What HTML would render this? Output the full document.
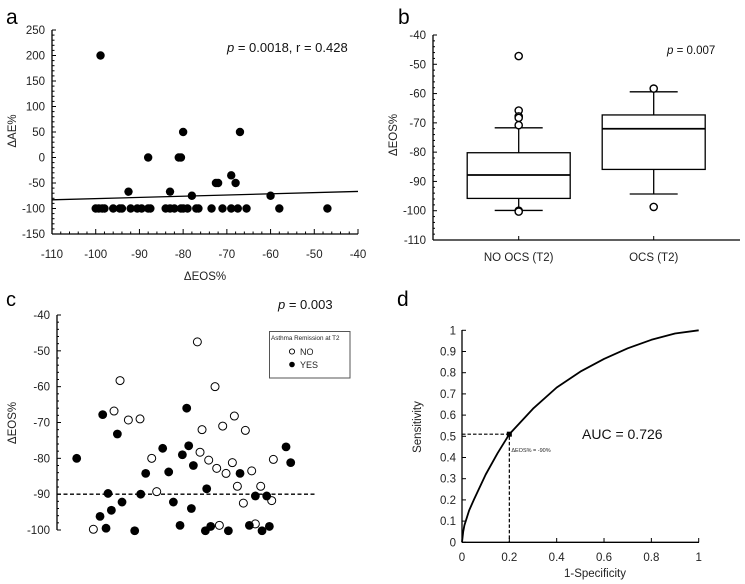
<!DOCTYPE html>
<html><head><meta charset="utf-8">
<style>
html,body{margin:0;padding:0;background:#fff;}
svg{display:block;font-family:"Liberation Sans",Arial,sans-serif;}
</style></head>
<body>
<svg id="fig" width="745" height="584" viewBox="0 0 745 584" xmlns="http://www.w3.org/2000/svg">
<rect width="745" height="584" fill="#fff"/>
<g id="pa"></g>
<g id="pb"></g>
<g id="pc"></g>
<g id="pd"></g>
</svg>
<script>
// ---- Panel a data ----
const aX = [-100,-99.3,-98.5,-98,-96,-94.5,-94,-92,-90.5,-89.5,-88,-87.5,-84,-83,-82,-80.5,-80,-79,-77,-76.5,-73.5,-71,-69,-67.5,-65.5,-58,-47,
  -98.9,-92.5,-83,-88,-81,-80.5,-80,-67,-78,-60,-72.5,-72,-68,-69];
const aY = [-100,-100,-100,-100,-100,-100,-100,-100,-100,-100,-100,-100,-100,-100,-100,-100,-100,-100,-100,-100,-100,-100,-100,-100,-100,-100,-100,
  200,-67,-67,0,0,0,50,50,-75,-75,-50,-50,-50,-35];
const aFitX = [-110,-40];
const aFitY = [-83,-66.5];
const aXTicks = [-110,-100,-90,-80,-70,-60,-50,-40];
const aYTicks = [-150,-100,-50,0,50,100,150,200,250];
// ---- Panel b data ----
const bCats = ["NO OCS (T2)","OCS (T2)"];
const bQ1 = [-95.8,-85.9];
const bMed = [-87.8,-72];
const bQ3 = [-80.2,-67.3];
const bWLo = [-99.9,-94.3];
const bWHi = [-71.7,-59.4];
const bOut0 = [-47.2,-65.8,-67.8,-68.3,-70.8,-100,-100.3];
const bOut1 = [-58.3,-98.7];
const bYTicks = [-110,-100,-90,-80,-70,-60,-50,-40];
// ---- Panel c data ----
const cNoX = [28,34.2,36,38.5,42,45.5,47,59.2,60,60.6,62.6,64.5,65,66.8,67.8,65.8,69.7,70.3,71.2,73,73.6,75.5,76.6,78.2,81.5,82];
const cNoY = [-99.8,-66.8,-58.3,-69.3,-69,-80,-89.3,-47.5,-78.3,-72,-80.5,-60,-82.8,-71,-84.2,-98.7,-81.2,-68.2,-87.8,-92.5,-72.2,-83.5,-98.3,-87.8,-91.8,-80.3];
const cYesX = [23,30,30.8,31.8,32.4,33.4,35.2,36.6,40.4,42.2,43.7,48.8,50.6,52,54,54.7,56,56.6,57.4,58,61.6,62,63.2,68.5,72,74.8,76.6,78.6,80,80.8,85.8,87.2];
const cYesY = [-80,-96.2,-67.8,-99.5,-89.8,-94.5,-73.2,-92.2,-100.2,-90,-84.2,-77.2,-83.8,-92.2,-98.7,-79,-66,-76.5,-94,-82,-100.2,-88.5,-99,-100.2,-84.2,-98.7,-90.5,-100.2,-90.5,-99,-76.8,-81.2];
const cCutoff = [-90];
const cYTicks = [-100,-90,-80,-70,-60,-50,-40];
// ---- Panel d data ----
const dFpr = [0,0.005,0.01,0.03,0.05,0.1,0.15,0.2,0.3,0.4,0.5,0.6,0.7,0.8,0.9,1];
const dTpr = [0,0.05,0.08,0.15,0.2,0.32,0.42,0.51,0.63,0.73,0.805,0.865,0.915,0.955,0.985,1];
const dCut = [0.2,0.51];
const dXTicks = [0,0.2,0.4,0.6,0.8,1];
const dYTicks = [0,0.1,0.2,0.3,0.4,0.5,0.6,0.7,0.8,0.9,1];

const NS="http://www.w3.org/2000/svg";
function mk(parent,tag,at,txt){const e=document.createElementNS(NS,tag);for(const k in at)e.setAttribute(k,at[k]);if(txt!==undefined)e.textContent=txt;parent.appendChild(e);return e;}
function lin(d0,d1,r0,r1){return v=>r0+(v-d0)/(d1-d0)*(r1-r0);}
const S={stroke:"#000","stroke-width":1.3};

// ================= Panel a =================
(function(){
const g=document.getElementById('pa');
const x=lin(-110,-40,52,358), y=lin(-150,250,234,30);
let e;
e=mk(g,'text',{x:6,y:24,'font-size':21},'a');


e=mk(g,'line',{x1:52,y1:30,x2:52,y2:234,...S});


e=mk(g,'line',{x1:52,y1:234,x2:358,y2:234,...S});


for(let v=-150;v<=250;v+=10){const mj=v%50===0;mk(g,'line',{x1:52,x2:mj?56:54.5,y1:y(v),y2:y(v),stroke:'#000','stroke-width':1});}
for(let v=-110;v<=-40;v+=2){const mj=v%10===0;mk(g,'line',{x1:x(v),x2:x(v),y1:234,y2:mj?229:231.5,stroke:'#000','stroke-width':1});}
aYTicks.forEach(v=>{e=mk(g,'text',{x:45,y:y(v)+4,'font-size':11.5,'text-anchor':'end',fill:'#222'},v);

});
aXTicks.forEach(v=>{e=mk(g,'text',{x:x(v),y:258,'font-size':11.5,'text-anchor':'middle',fill:'#222'},v);

});
e=mk(g,'text',{x:205,y:280,'font-size':11.5,'text-anchor':'middle',fill:'#222'},'ΔEOS%');


e=mk(g,'text',{x:0,y:0,'font-size':11.5,'text-anchor':'middle',fill:'#222',transform:'translate(16,131) rotate(-90)'},'ΔAE%');


e=mk(g,'text',{x:227,y:52,'font-size':13,fill:'#111'});
e.innerHTML='<tspan font-style="italic">p</tspan> = 0.0018, r = 0.428';


e=mk(g,'line',{x1:x(aFitX[0]),y1:y(aFitY[0]),x2:x(aFitX[1]),y2:y(aFitY[1]),stroke:'#000','stroke-width':1.3});


aX.forEach((v,i)=>{e=mk(g,'circle',{cx:x(v),cy:y(aY[i]),r:4.2,fill:'#000'});

});
})();

// ================= Panel b =================
(function(){
const g=document.getElementById('pb');
const y=lin(-110,-40,240,35);
const cx=[518.7,653.7], hw=51.5, capw=24;
let e;
e=mk(g,'text',{x:398,y:24,'font-size':21},'b');


e=mk(g,'line',{x1:433,y1:35,x2:433,y2:240,...S});


e=mk(g,'line',{x1:433,y1:240,x2:740,y2:240,...S});


for(let v=-110;v<=-40;v+=2){const mj=v%10===0;mk(g,'line',{x1:433,x2:mj?437:435,y1:y(v),y2:y(v),stroke:'#000','stroke-width':1});}
bYTicks.forEach(v=>{e=mk(g,'text',{x:426,y:y(v)+4,'font-size':11.5,'text-anchor':'end',fill:'#222'},v);

});
e=mk(g,'text',{x:0,y:0,'font-size':11.5,'text-anchor':'middle',fill:'#222',transform:'translate(397,135) rotate(-90)'},'ΔEOS%');


e=mk(g,'text',{x:667,y:54,'font-size':11.5,fill:'#111'});
e.innerHTML='<tspan font-style="italic">p</tspan> = 0.007';


bCats.forEach((c,i)=>{
 mk(g,'line',{x1:cx[i],x2:cx[i],y1:240,y2:236,stroke:'#000','stroke-width':1});
 e=mk(g,'text',{x:cx[i],y:261,'font-size':11.5,'text-anchor':'middle',fill:'#222'},c);
 
 
 e=mk(g,'line',{x1:cx[i],x2:cx[i],y1:y(bWHi[i]),y2:y(bQ3[i]),...S});
 
 
 e=mk(g,'line',{x1:cx[i],x2:cx[i],y1:y(bQ1[i]),y2:y(bWLo[i]),...S});
 
 
 mk(g,'line',{x1:cx[i]-capw,x2:cx[i]+capw,y1:y(bWHi[i]),y2:y(bWHi[i]),...S});
 mk(g,'line',{x1:cx[i]-capw,x2:cx[i]+capw,y1:y(bWLo[i]),y2:y(bWLo[i]),...S});
 e=mk(g,'rect',{x:cx[i]-hw,y:y(bQ3[i]),width:2*hw,height:y(bQ1[i])-y(bQ3[i]),fill:'#fff',...S});
 
 
 e=mk(g,'line',{x1:cx[i]-hw,x2:cx[i]+hw,y1:y(bMed[i]),y2:y(bMed[i]),stroke:'#000','stroke-width':1.8});
 
 
 (i===0?bOut0:bOut1).forEach(v=>{e=mk(g,'circle',{cx:cx[i],cy:y(v),r:3.6,fill:'#fff',stroke:'#000','stroke-width':1.4});
 
 });
});
})();

// ================= Panel c =================
(function(){
const g=document.getElementById('pc');
const x=lin(17,95,56.7,316.7), y=lin(-100,-40,530,315);
let e;
e=mk(g,'text',{x:6,y:306,'font-size':20},'c');


e=mk(g,'line',{x1:57,y1:315,x2:57,y2:530,...S});


for(let v=-100;v<=-40;v+=2){const mj=v%10===0;mk(g,'line',{x1:57,x2:mj?61:59,y1:y(v),y2:y(v),stroke:'#000','stroke-width':1});}
cYTicks.forEach(v=>{e=mk(g,'text',{x:50,y:y(v)+4,'font-size':11.5,'text-anchor':'end',fill:'#222'},v);

});
e=mk(g,'text',{x:0,y:0,'font-size':11.5,'text-anchor':'middle',fill:'#222',transform:'translate(16,423) rotate(-90)'},'ΔEOS%');


e=mk(g,'text',{x:278,y:309,'font-size':13,fill:'#111'});
e.innerHTML='<tspan font-style="italic">p</tspan> = 0.003';


e=mk(g,'line',{x1:57,x2:317,y1:y(cCutoff[0]),y2:y(cCutoff[0]),stroke:'#000','stroke-width':1.3,'stroke-dasharray':'4,2.5'});


cNoX.forEach((v,i)=>{e=mk(g,'circle',{cx:x(v),cy:y(cNoY[i]),r:4,fill:'#fff',stroke:'#000','stroke-width':1});

});
cYesX.forEach((v,i)=>{e=mk(g,'circle',{cx:x(v),cy:y(cYesY[i]),r:4.4,fill:'#000'});

});
const lg=mk(g,'g',{});


mk(lg,'rect',{x:269.5,y:331.5,width:80.5,height:46.5,fill:'#fff',stroke:'#555','stroke-width':1});
e=mk(lg,'text',{x:271,y:340,'font-size':6.3,fill:'#222'},'Asthma Remission at T2');


mk(lg,'circle',{cx:292,cy:351.5,r:2.6,fill:'#fff',stroke:'#000','stroke-width':0.9});
e=mk(lg,'text',{x:300,y:355,'font-size':9,fill:'#222'},'NO');


mk(lg,'circle',{cx:292,cy:364.5,r:2.8,fill:'#000'});
e=mk(lg,'text',{x:300,y:368,'font-size':9,fill:'#222'},'YES');


})();

// ================= Panel d =================
(function(){
const g=document.getElementById('pd');
const x=lin(0,1,462,698.7), y=lin(0,1,542.3,330.3);
let e;
e=mk(g,'text',{x:397,y:306,'font-size':21},'d');


e=mk(g,'line',{x1:462,y1:330,x2:462,y2:542.3,...S});


e=mk(g,'line',{x1:462,y1:542.3,x2:699,y2:542.3,...S});


dYTicks.forEach(v=>{mk(g,'line',{x1:462,x2:466,y1:y(v),y2:y(v),stroke:'#000','stroke-width':1});
e=mk(g,'text',{x:456,y:y(v)+4,'font-size':11.5,'text-anchor':'end',fill:'#222'},v);

});
dXTicks.forEach(v=>{mk(g,'line',{x1:x(v),x2:x(v),y1:542.3,y2:538,stroke:'#000','stroke-width':1});
e=mk(g,'text',{x:x(v),y:561,'font-size':11.5,'text-anchor':'middle',fill:'#222'},v);

});
e=mk(g,'text',{x:595,y:577,'font-size':11.5,'text-anchor':'middle',fill:'#222'},'1-Specificity');


e=mk(g,'text',{x:0,y:0,'font-size':11.5,'text-anchor':'middle',fill:'#222',transform:'translate(421,427) rotate(-90)'},'Sensitivity');


e=mk(g,'path',{d:dFpr.map((v,i)=>(i?'L':'M')+x(v).toFixed(1)+','+y(dTpr[i]).toFixed(1)).join(''),fill:'none',stroke:'#000','stroke-width':1.8,'stroke-linejoin':'round'});


e=mk(g,'path',{d:`M${x(0)},${y(dCut[1])}H${x(dCut[0])}V${y(0)}`,fill:'none',stroke:'#000','stroke-width':1.2,'stroke-dasharray':'3.5,2'});


e=mk(g,'rect',{x:x(dCut[0])-2.5,y:y(dCut[1])-2.5,width:5,height:5,fill:'#000'});


e=mk(g,'text',{x:x(dCut[0])+2,y:y(dCut[1])+18,'font-size':5.5,fill:'#222'},'ΔEOS% = -90%');


e=mk(g,'text',{x:582,y:439,'font-size':14,fill:'#111','font-family':'"Liberation Sans",sans-serif'},'AUC = 0.726');


})();
</script>
</body></html>
